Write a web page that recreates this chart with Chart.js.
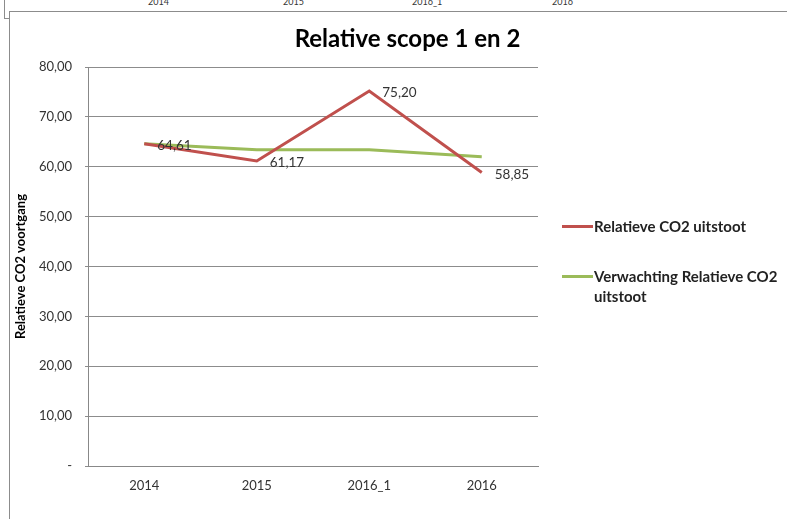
<!DOCTYPE html>
<html>
<head>
<meta charset="utf-8">
<script src="https://cdn.jsdelivr.net/npm/chart.js@4/dist/chart.umd.min.js"></script>
<style>
  html, body { margin: 0; padding: 0; background: #fff; }
  body { width: 787px; height: 519px; position: relative; overflow: hidden; font-family: Lato, "Open Sans", sans-serif; color: #000; }
  #wrap { position: absolute; left: 0; top: 0; width: 787px; height: 519px; }
  .frame { position: absolute; left: 9px; top: 11px; right: -2px; bottom: -2px; border: 1px solid #8c8c8c; }
  .corner { position: absolute; left: 4px; top: 0; width: 4px; height: 18px; border-left: 1px solid #8c8c8c; border-bottom: 1px solid #8c8c8c; }
  .topcat { position: absolute; top: -4px; font-size: 9px; color: #333; }
  .title { position: absolute; left: 0; width: 815px; top: 23px; text-align: center; font-size: 24px; font-weight: bold; }
  .legend { position: absolute; left: 562px; font-size: 15px; font-weight: bold; color: #222; line-height: 20px; }
  .legend .sw { position: absolute; left: 0; top: 9px; width: 31px; height: 3px; }
  .legend .txt { margin-left: 32px; display: block; width: 200px; }
</style>
</head>
<body>
<div class="corner"></div>
<div class="topcat" style="left:148px">2014</div>
<div class="topcat" style="left:283px">2015</div>
<div class="topcat" style="left:412px">2016_1</div>
<div class="topcat" style="left:552px">2016</div>
<div class="frame"></div>
<div id="wrap"><canvas id="chart" width="787" height="519"></canvas></div>
<div class="title">Relative scope 1 en 2</div>
<div id="legend"></div>
<script>
// categorieën en waarden
const categorieen = ['2014', '2015', '2016_1', '2016'];
const relatieveUitstoot = [64.61, 61.17, 75.20, 58.85];
const verwachting = [64.6, 63.4, 63.4, 62.0];
const yTicks = [0, 10, 20, 30, 40, 50, 60, 70, 80];

const rood = '#C0504D';
const groen = '#9BBB59';

const series = [
    { label: 'Relatieve CO2 uitstoot', data: relatieveUitstoot, kleur: rood, labels: true },
    { label: 'Verwachting Relatieve CO2 uitstoot', data: verwachting, kleur: groen, labels: false }
];

// legenda in HTML (tekst moet kunnen afbreken)
const legendEl = document.getElementById('legend');
const legendTops = [216, 266];
series.forEach((s, i) => {
    const d = document.createElement('div');
    d.className = 'legend';
    d.style.top = legendTops[i] + 'px';
    d.innerHTML = '<span class="sw" style="background:' + s.kleur + '"></span><span class="txt">' + s.label + '</span>';
    legendEl.appendChild(d);
});

// datalabels rechts van de punten
const dataLabels = {
    id: 'dataLabels',
    afterDatasetsDraw(chart) {
        const ctx = chart.ctx;
        ctx.save();
        ctx.font = '13.5px Lato, sans-serif';
        ctx.fillStyle = '#333';
        ctx.textBaseline = 'middle';
        chart.data.datasets.forEach((ds, i) => {
            if (!series[i].labels) return;
            chart.getDatasetMeta(i).data.forEach((pt, j) => {
                const txt = ds.data[j].toFixed(2).replace('.', ',');
                ctx.fillText(txt, pt.x + 13, pt.y + 2);
            });
        });
        ctx.restore();
    }
};

const ctx = document.getElementById('chart').getContext('2d');
new Chart(ctx, {
    type: 'line',
    data: {
        labels: categorieen,
        datasets: series.map(s => ({
            label: s.label,
            data: s.data,
            borderColor: s.kleur,
            backgroundColor: s.kleur,
            borderWidth: 3,
            pointRadius: 0,
            tension: 0
        }))
    },
    options: {
        responsive: false,
        animation: false,
        layout: { padding: { left: 10, top: 67, right: 249, bottom: 0 } },
        plugins: {
            legend: { display: false },
            title: { display: false },
            tooltip: { enabled: false }
        },
        scales: {
            x: {
                offset: true,
                afterFit: s => { s.height = 53; },
                grid: { display: false, drawTicks: false },
                border: { color: '#888', width: 1 },
                ticks: { color: '#333', font: { family: 'Lato', size: 13 }, padding: 12 }
            },
            y: {
                min: 0,
                max: 80,
                afterFit: s => { s.width = 78; },
                afterBuildTicks: s => { s.ticks = yTicks.map(v => ({ value: v })); },
                grid: { color: '#8c8c8c', tickLength: 3, lineWidth: 1 },
                border: { color: '#888', width: 1 },
                ticks: {
                    color: '#333',
                    font: { family: 'Lato', size: 13 },
                    padding: 13,
                    callback: v => v === 0 ? '-' : v.toFixed(2).replace('.', ',')
                },
                title: {
                    display: true,
                    text: 'Relatieve CO2 voortgang',
                    color: '#000',
                    font: { family: 'Lato', size: 13, weight: 'bold' },
                    padding: { top: 3, bottom: 0 }
                }
            }
        }
    },
    plugins: [dataLabels]
});
</script>
</body>
</html>
